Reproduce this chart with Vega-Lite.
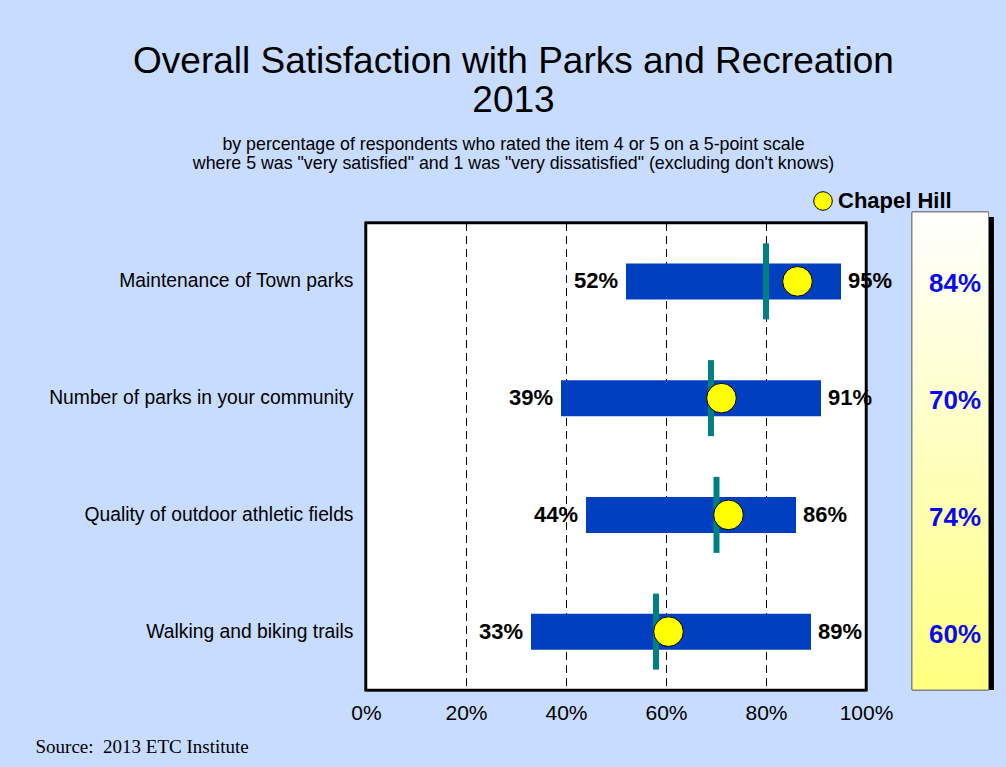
{
  "$schema": "https://vega.github.io/schema/vega-lite/v6.json",
  "width": 629,
  "height": 467,
  "autosize": {"type": "none"},
  "padding": {"left": 366, "top": 223, "right": 11, "bottom": 77},
  "background": "#C8DCFF",
  "config": {"font": "Liberation Sans", "view": {"stroke": null}},
  "title": {
    "text": ["Overall Satisfaction with Parks and Recreation", "2013"],
    "subtitle": ["by percentage of respondents who rated the item 4 or 5 on a 5-point scale", "where 5 was \"very satisfied\" and 1 was \"very dissatisfied\" (excluding don't knows)"],
    "anchor": "middle",
    "frame": "group",
    "dx": -167,
    "offset": 16,
    "fontSize": 37,
    "fontWeight": "normal",
    "lineHeight": 39,
    "color": "#000000",
    "subtitleFontSize": 17.8,
    "subtitleLineHeight": 19.5,
    "subtitleColor": "#000000",
    "subtitlePadding": 16
  },
  "data": {
    "values": [
      {"item": "Maintenance of Town parks", "min": 0.52, "max": 0.95, "avg": 0.80, "ch": 0.84, "ch_pos": 0.863},
      {"item": "Number of parks in your community", "min": 0.39, "max": 0.91, "avg": 0.69, "ch": 0.70, "ch_pos": 0.711},
      {"item": "Quality of outdoor athletic fields", "min": 0.44, "max": 0.86, "avg": 0.701, "ch": 0.74, "ch_pos": 0.725},
      {"item": "Walking and biking trails", "min": 0.33, "max": 0.89, "avg": 0.58, "ch": 0.60, "ch_pos": 0.605}
    ]
  },
  "encoding": {
    "y": {
      "field": "item", "type": "nominal", "sort": null,
      "scale": {"paddingInner": 0, "paddingOuter": 0},
      "axis": {"title": null, "ticks": false, "domain": false, "labelFontSize": 19.3, "labelColor": "#000000", "labelPadding": 13, "labelLimit": 400}
    }
  },
  "layer": [
    {
      "mark": {"type": "rect", "fill": "#000000", "xOffset": 5, "x2Offset": 5, "yOffset": -6},
      "encoding": {
        "x": {"datum": 1.092, "type": "quantitative", "scale": {"domain": [0, 1.258], "nice": false, "zero": false},
          "axis": {"values": [0, 0.2, 0.4, 0.6, 0.8, 1], "format": ".0%", "ticks": false, "domain": false, "grid": false, "labelFlush": false, "labelFontSize": 21, "labelColor": "#000000", "labelPadding": 12,
            "title": "Source:\u00a0\u00a02013 ETC Institute", "titleFont": "Liberation Serif", "titleFontSize": 19, "titleFontWeight": "normal", "titleColor": "#000000", "titleX": -331, "titleY": 62, "titleAlign": "left", "titleBaseline": "alphabetic", "titleAnchor": "start"}},
        "x2": {"datum": 1.245},
        "y": null
      }
    },
    {
      "mark": {"type": "rect", "stroke": "#808080", "strokeWidth": 1, "yOffset": -11,
        "fill": {"gradient": "linear", "x1": 0, "y1": 0, "x2": 0, "y2": 1, "stops": [{"offset": 0, "color": "#FFFFFF"}, {"offset": 1, "color": "#FFFF80"}]}},
      "encoding": {"x": {"datum": 1.092, "type": "quantitative"}, "x2": {"datum": 1.245}, "y": null}
    },
    {
      "mark": {"type": "rect", "fill": "#FFFFFF", "stroke": "#000000", "strokeWidth": 2.5},
      "encoding": {"x": {"datum": 0, "type": "quantitative"}, "x2": {"datum": 1}, "y": null}
    },
    {
      "data": {"values": [{"g": 0.2}, {"g": 0.4}, {"g": 0.6}, {"g": 0.8}]},
      "mark": {"type": "rule", "stroke": "#000000", "strokeWidth": 1, "strokeDash": [8, 5], "xOffset": 0.5},
      "encoding": {"x": {"field": "g", "type": "quantitative"}, "y": null}
    },
    {
      "mark": {"type": "bar", "color": "#0040C0", "size": 36},
      "encoding": {"x": {"field": "min", "type": "quantitative"}, "x2": {"field": "max"}}
    },
    {
      "mark": {"type": "tick", "color": "#008080", "size": 76, "thickness": 6, "opacity": 1},
      "encoding": {"x": {"field": "avg", "type": "quantitative"}}
    },
    {
      "mark": {"type": "point", "shape": "circle", "filled": true, "size": 880, "stroke": "#000000", "strokeWidth": 1, "opacity": 1},
      "encoding": {
        "x": {"field": "ch_pos", "type": "quantitative"},
        "fill": {"datum": "Chapel Hill", "type": "nominal", "scale": {"range": ["#FFFF00"]},
          "legend": {"title": null, "orient": "none", "legendX": 446, "legendY": -33, "padding": 0, "symbolSize": 346, "symbolStrokeColor": "#000000", "symbolStrokeWidth": 1, "symbolType": "circle", "labelFontSize": 22, "labelFontWeight": "bold", "labelColor": "#000000", "labelOffset": 4}}
      }
    },
    {
      "mark": {"type": "text", "align": "right", "baseline": "middle", "dx": -8, "fontSize": 22, "fontWeight": "bold", "color": "#000000"},
      "encoding": {"x": {"field": "min", "type": "quantitative"}, "text": {"field": "min", "format": ".0%"}}
    },
    {
      "mark": {"type": "text", "align": "left", "baseline": "middle", "dx": 7, "fontSize": 22, "fontWeight": "bold", "color": "#000000"},
      "encoding": {"x": {"field": "max", "type": "quantitative"}, "text": {"field": "max", "format": ".0%"}}
    },
    {
      "mark": {"type": "text", "align": "center", "baseline": "middle", "dy": 3, "fontSize": 26, "fontWeight": "bold", "color": "#0A0AF0"},
      "encoding": {"x": {"datum": 1.178, "type": "quantitative"}, "text": {"field": "ch", "format": ".0%"}}
    }
  ]
}
